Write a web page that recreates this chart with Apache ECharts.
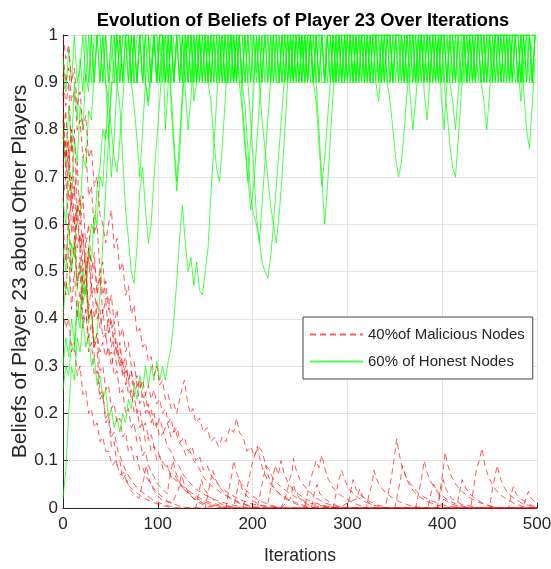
<!DOCTYPE html>
<html><head><meta charset="utf-8">
<script src="https://cdn.jsdelivr.net/npm/echarts@6/dist/echarts.min.js"></script>
<style>html,body{margin:0;padding:0;background:#fff}#c{width:551px;height:569px}</style>
</head><body><div id="c"></div>
<script>
// ---------- DATA ----------
const titleText = 'Evolution of Beliefs of Player 23 Over Iterations';
const xAxisName = 'Iterations';
const yAxisName = 'Beliefs of Player 23 about Other Players';
const honestName = '60% of Honest Nodes';
const maliciousName = '40%of Malicious Nodes';
const xTicks = [0, 100, 200, 300, 400, 500];
const yTicks = [0, 0.1, 0.2, 0.3, 0.4, 0.5, 0.6, 0.7, 0.8, 0.9, 1];
const honestStep = 3; // iterations between samples of the honest series

// Honest players (sampled every 3 iterations, x = 0..498)
const honest1 = [.02,.08,.2,.3,.27,.36,.33,.4,.34,.37, .3,.32,.26,.28,.23,.25,.19,.21,.17,.19, .16,.2,.18,.23,.21,.26,.23,.28,.25,.3, .26,.3,.27,.31,.27,.3,.27,.31,.34,.4, .48,.57,.64,.56,.5,.53,.47,.52,.46,.45, .5,.55,.66,.76,.86,.95,1,.9,1,1, .9,1,.9,.9,1,1,.9,1,.92,1, .9,1,1,.9,1,.9,.9,1,1,.9, 1,.9,1,1,.95,1,.9,1,.9,1, 1,.9,.9,1,1,.9,1,.9,1,1, .9,1,.9,1,1,1,.9,1,.9,.9, 1,1,.9,1,1,.9,1,1,1,.9, 1,.9,1,1,.9,1,1,1,.9,1, .9,1,1,1,.9,1,.9,1,1,1, .9,1,1,.9,1,1,1,.9,1,.9, 1,1,1,.9,1,1,.9,1,1,1, .9,1,1,.9,1,1,1];
const honest2 = [.55,.5,.6,.5,.56,.46,.52,.43,.47,.39, .42,.35,.37,.45,.56,.67,.78,.88,.96,1, .9,1,1,.9,1,.9,.9,1,1,.9, 1,.9,1,1,.9,1,.8,.9,1,.9, 1,1,.9,1,.9,1,1,.9,1,.9, 1,.9,1,1,.9,1,1,.9,.9,1, 1,.9,1,1,.9,1,.9,1,1,.9, 1,1,.9,1,.9,1,1,.9,1,1, .9,1,.9,1,1,.9,1,1,.9,1, .9,1,1,.9,1,1,.9,1,.9,1, 1,.9,1,1,.9,1,1,.9,1,1, .9,.86,.93,1,1,1,.9,1,1,1, .9,1,.88,.8,.86,.94,1,.9,1,1, 1,.9,1,.87,.8,.9,1,1,.9,1, 1,1,.9,1,1,.9,1,1,1,.9, 1,1,.9,1,1,1,.9,1,1,.9, .93,.86,.95,1,1,.9,1];
const honest3 = [.8,.72,.85,.76,.9,.82,.95,.88,1,.9, 1,.9,1,1,.9,1,.9,1,1,.9, .85,.74,.63,.57,.5,.475,.55,.67,.72,.63, .56,.6,.7,.78,.86,.95,1,.9,1,.9, 1,1,.9,1,.9,1,.9,1,1,.9, 1,.9,1,.9,1,1,.9,1,.9,1, 1,.9,1,.9,.85,.76,.66,.62,.6,.57, .52,.5,.486,.53,.6,.68,.76,.84,.92,1, .9,1,1,.9,1,.9,1,1,.9,1, .9,1,.9,1,1,.9,1,1,.9,.9, 1,1,.9,1,.9,1,1,1,.9,1, 1,.9,1,1,.9,.86,.8,.74,.7,.73, .8,.88,.95,1,.9,1,1,.9,1,1, .9,1,1,.9,1,1,1,.9,1,.9, 1,1,.9,1,.9,1,1,1,.9,1, .9,1,1,1,.9,1,1,1,.9,1, 1,.9,1,1,1,.9,1];
const honest4 = [.4,.48,.45,.56,.53,.64,.62,.74,.72,.84, .82,.93,1,.9,1,.9,.8,.7,.78,.9, 1,.9,1,1,.9,1,.9,1,.9,1, 1,.9,1,.9,1,1,.9,1,.85,.76, .67,.75,.86,.95,1,.9,1,.9,1,1, .9,1,.9,1,1,.9,1,1,.9,1, .9,1,1,.9,1,.9,.82,.72,.62,.56, .64,.73,.82,.9,1,1,.9,1,.9,1, 1,.9,1,.9,1,1,.9,1,1,.9, .8,.7,.6,.68,.78,.88,.95,1,.9,1, .9,1,1,.9,1,.9,1,1,.9,1, 1,.9,1,.9,1,1,1,.9,1,1, .9,1,1,1,.9,1,.9,1,1,.9, 1,1,.9,1,.9,.84,.77,.72,.7,.78, .87,.95,1,.9,1,1,1,.9,1,1, 1,.9,1,1,.9,1,1,1,.9,1, 1,1,.9,1,1,.9,1];
const honest5 = [.65,.6,.72,.66,.78,.73,.85,.8,.92,.88, 1,.9,1,1,.9,1,.9,1,.9,1, 1,.9,1,1,.9,.85,.78,.7,.8,.9, .86,.94,1,.9,1,.9,1,1,.88,.78, .69,.78,.88,.97,1,.9,1,.9,1,.9, 1,1,.9,1,.9,1,.9,1,1,.9, 1,.9,1,1,.9,1,1,.9,1,.9, .82,.76,.7,.64,.6,.56,.62,.7,.8,.9, 1,1,.9,1,.9,1,.9,1,1,.9, 1,1,.9,1,.9,1,1,.9,1,1, .9,1,1,.9,1,1,.9,1,1,.9, 1,.9,1,1,.9,1,.9,1,1,.9, 1,1,.9,1,1,.9,1,.88,.82,.9, 1,1,.9,1,1,.9,1,1,.9,1, 1,.9,1,1,.9,1,1,.9,.86,.8, .88,.96,1,.9,1,1,1,.9,1,1, .9,1,.88,.8,.76,.85,.95];
const honest6 = [.3,.36,.32,.4,.35,.44,.4,.5,.45,.55, .52,.62,.6,.7,.68,.8,.78,.9,.9,1, .9,1,1,.9,1,.9,1,1,.9,1, .9,1,1,.9,1,1,.9,1,1,.9, 1,.9,1,.9,1,1,.9,1,.9,1, 1,.9,.86,.78,.72,.69,.76,.86,.95,1, .9,1,.9,.84,.76,.69,.78,.88,1,.9, 1,.9,1,1,.9,1,.9,1,1,.9, 1,.9,1,1,.9,1,.9,1,.9,1, 1,1,.9,1,.9,1,.9,1,1,.9, 1,.9,1,.9,1,1,.9,1,.9,1, 1,1,.9,1,1,.9,1,1,.9,1, .9,1,1,.9,1,.9,1,1,.9,1, 1,.9,1,.9,1,1,.9,.86,.8,.88, .95,1,.9,1,1,.9,1,1,.9,1, 1,.9,1,1,.9,1,1,.9,1,1, 1,.9,1,1,.9,1,1];
const honest7 = [.95,.88,.97,.9,1,.9,.93,1,.9,1, .9,1,1,.9,1,.9,.86,.8,.74,.71, .78,.86,.94,1,.9,1,.9,1,1,.9, .85,.92,1,.9,1,1,.9,1,.9,1, 1,.9,1,.88,.8,.87,.95,1,.9,1, 1,.9,1,.9,1,1,.9,1,1,.9, 1,.9,1,.86,.78,.7,.63,.68,.76,.85, .93,1,.9,1,1,.9,1,.9,1,1, .9,1,1,.9,1,.9,1,1,.9,.86, .77,.68,.74,.82,.9,1,.9,1,1,.9, 1,1,.9,1,1,.9,1,.9,1,1, .9,1,1,.9,1,1,.9,1,.9,1, 1,.9,1,1,.9,1,1,.9,1,.9, 1,1,.9,1,1,.9,1,1,.9,1, .9,1,1,1,.9,1,.9,1,1,.9, 1,1,.9,1,1,.9,1,1,.9,1, 1,.9,1,1,1,.9,1];
const honest8 = [.25,.3,.28,.35,.33,.42,.38,.47,.45,.55, .6,.58,.68,.72,.8,.78,.88,.95,1,.9, 1,.9,1,1,.9,1,.9,1,.9,1, 1,.9,1,1,.9,1,1,.9,1,.9, 1,.9,1,1,.9,1,.86,.9,1,1, .9,1,.9,1,1,.9,1,.9,1,1, .9,1,1,.9,1,.9,1,1,.9,1, .9,1,1,.9,1,1,.9,1,.9,1, 1,.9,1,1,.9,1,1,.9,1,1, .9,1,.9,1,1,.9,1,1,.9,1, 1,1,.9,1,.9,1,1,.9,1,.9, 1,1,1,.9,1,1,.9,1,1,1, .9,1,1,.9,1,1,.9,1,1,.9, 1,.9,1,1,1,.9,1,.9,1,1, 1,1,.9,1,1,.9,1,1,.9,1, 1,.9,1,1,1,.9,1,.9,1,1, .9,1,1,.9,1,1,1];

// Malicious players: [iteration, belief]
const malicious1 = [[0,.92],[3,.85],[6,.9],[9,.75],[12,.8],[15,.62],[18,.66],[21,.5],[24,.54],[27,.4],[30,.42],[33,.32],[36,.33],[39,.24],[42,.25],[45,.18],[48,.19],[51,.13],[54,.14],[57,.09],[60,.1],[63,.06],[66,.07],[70,.04],[75,.03],[80,.02],[85,.06],[88,.09],[91,.06],[95,.04],[100,.025],[106,.015],[115,.01],[122,.04],[125,.07],[128,.05],[133,.03],[140,.015],[150,.005],[165,0],[180,0],[183,.03],[186,.06],[189,.04],[194,.025],[200,.015],[210,.005],[230,0],[240,.02],[243,.05],[246,.03],[252,.015],[260,.005],[290,0],[310,.02],[313,.04],[316,.025],[322,.012],[330,0],[395,0],[398,.03],[401,.06],[404,.04],[410,.02],[420,.008],[440,0],[500,0]];
const malicious2 = [[0,.72],[3,.78],[6,.65],[9,.7],[12,.6],[15,.64],[18,.55],[21,.58],[24,.5],[27,.53],[30,.45],[33,.47],[36,.4],[39,.42],[42,.36],[45,.37],[48,.32],[51,.33],[54,.28],[57,.29],[60,.24],[63,.25],[66,.2],[69,.21],[72,.17],[75,.18],[78,.14],[81,.15],[84,.11],[87,.12],[90,.09],[95,.07],[100,.05],[105,.04],[110,.03],[113,.07],[116,.1],[119,.075],[124,.05],[130,.035],[138,.02],[148,.01],[160,.004],[175,0],[205,0],[208,.03],[211,.06],[214,.09],[217,.065],[222,.045],[228,.03],[236,.018],[246,.008],[260,0],[285,0],[288,.03],[291,.06],[294,.08],[297,.06],[302,.04],[308,.027],[316,.015],[328,.006],[340,0],[430,0],[433,.04],[436,.08],[439,.1],[442,.126],[445,.09],[449,.065],[454,.045],[460,.03],[468,.018],[478,.008],[490,0],[500,0]];
const malicious3 = [[0,1],[3,.95],[6,.98],[9,.9],[12,.93],[15,.85],[18,.88],[21,.8],[24,.83],[27,.74],[30,.76],[33,.68],[36,.7],[39,.62],[42,.6],[45,.56],[48,.6],[51,.63],[54,.55],[57,.57],[60,.5],[63,.52],[66,.45],[69,.47],[72,.41],[75,.43],[78,.37],[81,.38],[84,.34],[87,.35],[90,.31],[93,.32],[96,.28],[99,.3],[102,.26],[105,.27],[108,.23],[111,.24],[114,.21],[117,.22],[120,.2],[124,.24],[128,.27],[131,.23],[134,.2],[137,.21],[140,.18],[144,.19],[148,.16],[152,.17],[156,.14],[160,.15],[164,.13],[168,.15],[172,.14],[176,.17],[180,.16],[183,.19],[186,.16],[190,.15],[194,.12],[198,.13],[202,.11],[206,.13],[210,.12],[214,.09],[218,.08],[222,.06],[227,.05],[233,.04],[240,.03],[248,.02],[258,.012],[270,.006],[290,0],[340,0],[343,.03],[346,.06],[349,.1],[352,.146],[355,.11],[358,.085],[362,.065],[367,.05],[373,.035],[380,.024],[390,.014],[402,.006],[420,0],[500,0]];
const malicious4 = [[0,.5],[3,.45],[6,.55],[9,.42],[12,.5],[15,.4],[18,.46],[21,.38],[24,.42],[27,.36],[30,.39],[33,.34],[36,.37],[39,.33],[42,.35],[45,.32],[48,.34],[51,.3],[54,.33],[57,.3],[60,.32],[63,.28],[66,.3],[69,.27],[72,.29],[75,.26],[78,.28],[81,.25],[84,.27],[87,.24],[90,.26],[93,.23],[96,.25],[99,.22],[102,.23],[105,.2],[108,.21],[111,.18],[114,.19],[117,.16],[120,.17],[124,.14],[128,.15],[132,.12],[136,.13],[140,.1],[144,.11],[148,.08],[152,.09],[156,.07],[161,.055],[166,.045],[172,.035],[180,.025],[190,.015],[200,.008],[215,.003],[230,0],[236,.03],[239,.06],[242,.08],[243,.105],[246,.08],[250,.06],[255,.045],[261,.032],[268,.02],[277,.01],[290,.003],[300,0],[372,0],[375,.03],[378,.06],[381,.1],[384,.075],[388,.055],[393,.04],[399,.028],[406,.016],[416,.007],[430,0],[500,0]];
const malicious5 = [[0,.82],[3,.74],[6,.78],[9,.64],[12,.68],[15,.55],[18,.58],[21,.47],[24,.5],[27,.4],[30,.42],[33,.34],[36,.36],[39,.29],[42,.3],[45,.25],[48,.26],[51,.21],[54,.22],[57,.18],[60,.19],[63,.15],[66,.16],[69,.12],[72,.13],[75,.1],[78,.11],[81,.08],[84,.085],[88,.065],[93,.05],[98,.035],[104,.025],[110,.015],[118,.008],[128,0],[140,0],[143,.03],[146,.06],[149,.04],[154,.025],[160,.015],[170,.006],[185,0],[255,0],[258,.03],[261,.06],[264,.08],[267,.1],[270,.085],[273,.112],[276,.085],[280,.06],[285,.042],[291,.03],[298,.02],[307,.01],[320,0],[450,0],[453,.04],[456,.07],[458,.09],[461,.065],[465,.045],[470,.03],[476,.02],[484,.01],[495,.003],[500,0]];
const malicious6 = [[0,.96],[3,.9],[6,.93],[9,.86],[12,.88],[15,.8],[18,.82],[21,.74],[24,.76],[27,.66],[30,.68],[33,.58],[36,.6],[39,.5],[42,.52],[45,.44],[48,.45],[51,.38],[54,.39],[57,.33],[60,.34],[63,.28],[66,.29],[69,.24],[72,.25],[75,.2],[78,.21],[81,.17],[84,.18],[87,.14],[90,.15],[93,.12],[96,.13],[99,.1],[102,.11],[106,.08],[110,.09],[114,.065],[118,.07],[123,.05],[128,.04],[134,.03],[141,.02],[150,.012],[160,.006],[175,0],[300,0],[303,.03],[306,.06],[309,.04],[315,.025],[322,.015],[332,.006],[345,0],[395,0],[398,.04],[401,.08],[403,.118],[406,.09],[410,.065],[415,.048],[421,.035],[428,.023],[437,.013],[448,.005],[460,0],[500,0]];
const malicious7 = [[0,.42],[3,.38],[6,.4],[9,.33],[12,.35],[15,.28],[18,.3],[21,.24],[24,.25],[27,.2],[30,.21],[33,.17],[36,.18],[39,.14],[42,.15],[45,.12],[48,.12],[52,.09],[56,.1],[60,.07],[64,.075],[68,.05],[73,.04],[79,.03],[86,.02],[95,.012],[105,.005],[115,0],[150,0],[153,.03],[156,.06],[158,.08],[161,.06],[165,.045],[170,.032],[177,.02],[186,.01],[198,.003],[210,0],[320,0],[323,.03],[326,.05],[328,.08],[331,.06],[335,.045],[340,.033],[347,.022],[356,.012],[368,.004],[380,0],[470,0],[473,.03],[475,.045],[478,.03],[484,.018],[492,.008],[500,0]];
const malicious8 = [[0,.65],[3,.7],[6,.6],[9,.66],[12,.57],[15,.62],[18,.54],[21,.58],[24,.5],[27,.55],[30,.47],[33,.52],[36,.46],[39,.5],[42,.45],[45,.48],[48,.42],[51,.45],[54,.39],[57,.42],[60,.36],[63,.38],[66,.33],[69,.35],[72,.3],[75,.31],[78,.26],[81,.27],[84,.23],[87,.24],[90,.2],[93,.21],[96,.17],[99,.18],[102,.15],[106,.16],[110,.13],[114,.12],[118,.1],[122,.09],[127,.07],[133,.055],[140,.04],[148,.03],[157,.02],[168,.012],[180,.006],[195,0],[215,0],[218,.03],[221,.06],[224,.09],[227,.07],[230,.1],[233,.075],[237,.055],[242,.04],[248,.03],[255,.02],[264,.012],[275,.005],[290,0],[350,0],[353,.03],[356,.06],[358,.09],[361,.07],[365,.05],[370,.035],[376,.024],[384,.014],[394,.006],[410,0],[500,0]];
const malicious9 = [[0,.88],[3,.7],[6,.76],[9,.58],[12,.62],[15,.48],[18,.5],[21,.4],[24,.42],[27,.33],[30,.35],[33,.28],[36,.29],[39,.23],[42,.24],[45,.19],[48,.2],[51,.15],[54,.16],[58,.12],[62,.1],[66,.08],[70,.065],[75,.05],[80,.04],[86,.03],[93,.02],[100,.012],[110,.005],[120,0],[172,0],[175,.04],[178,.07],[180,.1],[183,.075],[187,.055],[192,.04],[198,.028],[206,.017],[216,.008],[230,0],[385,0],[388,.03],[391,.05],[394,.035],[400,.02],[410,.008],[425,0],[500,0]];
const malicious10 = [[0,.6],[3,.52],[6,.62],[9,.5],[12,.57],[15,.47],[18,.53],[21,.44],[24,.5],[27,.42],[30,.47],[33,.4],[36,.44],[39,.38],[42,.42],[45,.36],[48,.4],[51,.34],[54,.37],[57,.32],[60,.35],[63,.3],[66,.32],[69,.27],[72,.29],[75,.24],[78,.26],[81,.22],[84,.24],[87,.2],[90,.22],[93,.18],[96,.2],[99,.17],[102,.19],[106,.16],[110,.18],[114,.15],[118,.17],[122,.14],[126,.13],[130,.11],[134,.12],[138,.1],[142,.09],[147,.07],[152,.055],[158,.045],[165,.035],[173,.025],[182,.015],[192,.008],[205,0],[262,0],[265,.03],[268,.05],[271,.03],[277,.018],[285,.008],[295,0],[415,0],[418,.03],[421,.06],[424,.045],[429,.03],[436,.018],[445,.008],[458,0],[485,0],[488,.02],[491,.035],[494,.02],[500,.01]];
const malicious11 = [[0,.78],[3,.84],[6,.72],[9,.8],[12,.66],[15,.73],[18,.6],[21,.66],[24,.55],[27,.6],[30,.5],[33,.54],[36,.45],[39,.49],[42,.41],[45,.44],[48,.37],[51,.4],[54,.33],[57,.35],[60,.3],[63,.31],[66,.26],[69,.27],[72,.23],[75,.24],[78,.2],[81,.21],[84,.17],[87,.18],[90,.15],[93,.155],[96,.13],[100,.12],[104,.1],[108,.09],[113,.075],[118,.06],[124,.05],[130,.04],[137,.03],[145,.02],[155,.012],[168,.005],[185,0],[190,0],[193,.03],[196,.06],[199,.09],[202,.11],[205,.13],[208,.1],[212,.075],[217,.055],[223,.04],[230,.028],[239,.017],[250,.008],[265,0],[500,0]];

const honestSeries = [honest1, honest2, honest3, honest4, honest5, honest6, honest7, honest8];
const maliciousSeries = [malicious1, malicious2, malicious3, malicious4, malicious5, malicious6, malicious7, malicious8, malicious9, malicious10, malicious11];

// ---------- CHART ----------
const FONT = '"Liberation Sans", Arial, sans-serif';
const TXT = '#262626';
const GREEN = 'rgba(0,255,0,0.7)';
const RED = 'rgba(255,0,0,0.65)';

const series = [];
honestSeries.forEach(ys => {
  series.push({
    type: 'line', name: honestName, symbol: 'none', silent: true,
    data: ys.map((y, i) => [i * honestStep, y]),
    lineStyle: { color: GREEN, width: 1 },
    itemStyle: { color: GREEN }
  });
});
maliciousSeries.forEach(pts => {
  series.push({
    type: 'line', name: maliciousName, symbol: 'none', silent: true,
    data: pts,
    lineStyle: { color: RED, width: 1, type: [6, 4] },
    itemStyle: { color: RED }
  });
});

const chart = echarts.init(document.getElementById('c'), null, { renderer: 'canvas' });
chart.setOption({
  animation: false,
  backgroundColor: '#fff',
  title: {
    text: titleText, left: 298, top: 7, textAlign: 'center',
    textStyle: { fontFamily: FONT, fontSize: 18.3, fontWeight: 'bold', color: '#000' }
  },
  grid: { left: 63, right: 14, top: 35, bottom: 61, outerBoundsMode: 'none', containLabel: false },
  legend: {
    data: [maliciousName, honestName],
    orient: 'vertical', left: 303, top: 317,
    itemWidth: 53, itemHeight: 14, itemGap: 12,
    padding: [10, 8, 10, 6],
    itemStyle: { opacity: 0 },
    backgroundColor: '#fff', borderColor: '#444', borderWidth: 1,
    textStyle: { fontFamily: FONT, fontSize: 15, color: TXT }
  },
  xAxis: {
    type: 'value', min: 0, max: 500, interval: 100,
    name: xAxisName, nameLocation: 'middle', nameGap: 39, nameMoveOverlap: false,
    nameTextStyle: { fontFamily: FONT, fontSize: 17.5, color: TXT },
    axisLine: { show: true, lineStyle: { color: TXT, width: 1 } },
    axisTick: { show: true, inside: true, length: 5, lineStyle: { color: TXT } },
    axisLabel: { fontFamily: FONT, fontSize: 17, color: TXT, margin: 8 },
    splitLine: { show: true, lineStyle: { color: '#e3e3e3', width: 1 } }
  },
  yAxis: {
    type: 'value', min: 0, max: 1, interval: 0.1,
    name: yAxisName, nameLocation: 'middle', nameGap: 32, nameRotate: 90, nameMoveOverlap: false,
    nameTextStyle: { fontFamily: FONT, fontSize: 21, color: TXT },
    axisLine: { show: true, lineStyle: { color: TXT, width: 1 } },
    axisTick: { show: true, inside: true, length: 5, lineStyle: { color: TXT } },
    axisLabel: { fontFamily: FONT, fontSize: 17, color: TXT, margin: 5,
      formatter: v => String(+v.toFixed(1)) },
    splitLine: { show: true, lineStyle: { color: '#e3e3e3', width: 1 } }
  },
  series: series
});
</script>
</body></html>
